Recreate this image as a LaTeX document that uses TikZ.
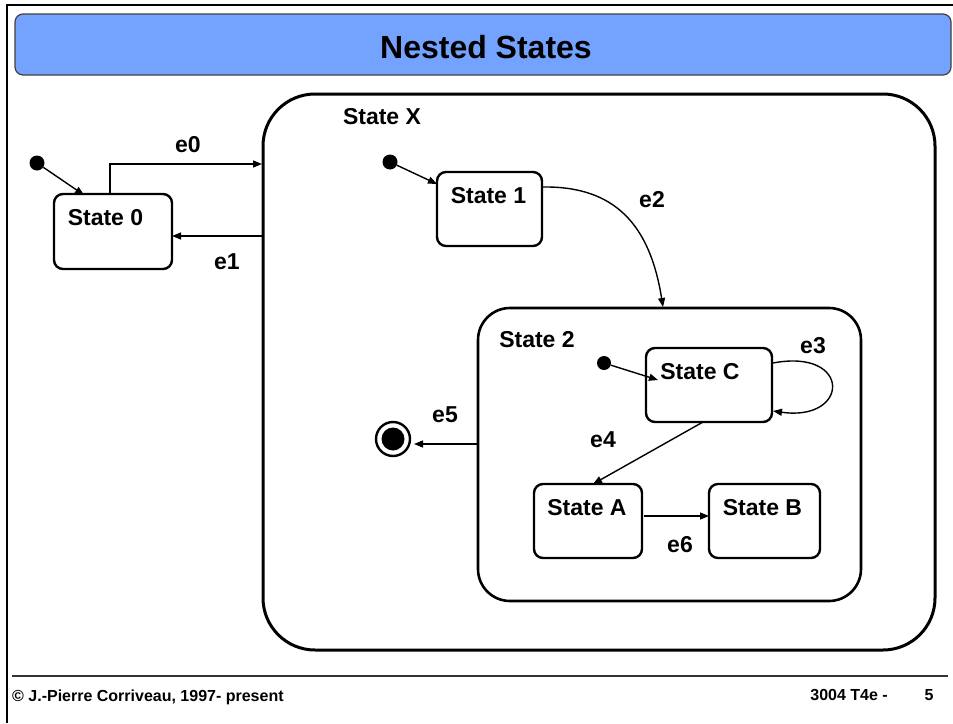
\documentclass[tikz,border=0pt]{standalone}
\usepackage{fontspec}
\setmainfont{Liberation Sans}
\usetikzlibrary{arrows.meta}
\begin{document}
\begin{tikzpicture}[x=1pt,y=-1pt,
  stbox/.style={draw,line width=2.4pt,rounded corners=9pt,inner sep=0pt},
  txt/.style={font=\fontsize{23}{27}\selectfont\bfseries,inner sep=0pt},
  ftxt/.style={font=\fontsize{16}{19}\selectfont\bfseries,inner sep=0pt},
  trans/.style={line width=1.4pt,-{Triangle[length=9pt,width=7pt]}},
  initdot/.style={circle,fill=black,inner sep=0pt,minimum size=15pt},
]
\useasboundingbox (0,0) rectangle (953,723);
% slide frame
\draw[line width=2pt] (7,723) -- (7,4.5) -- (953,4.5);
% title bar
\node[draw=black!75,line width=1.2pt,fill={rgb,255:red,115;green,162;blue,255},
      rounded corners=8pt,minimum width=936pt,minimum height=61pt,inner sep=0pt]
      (title) at (483,44.5) {};
\node[font=\fontsize{32}{38}\selectfont\bfseries,inner sep=0pt] (ttext) at (486,47) {Nested States};

% composite state X
\node[stbox,line width=3pt,rounded corners=52pt,minimum width=672pt,minimum height=556pt] (sx) at (599,372) {};
\node[txt] (sxl) at (382,117) {State X};

% State 0
\node[stbox,minimum width=118pt,minimum height=75pt] (s0) at (113,231.5) {};
\node[txt] (s0l) at (105.5,218) {State 0};
\node[initdot] (i0) at (37,163) {};

% State 1
\node[stbox,minimum width=105pt,minimum height=74pt] (s1) at (489.5,209) {};
\node[txt] (s1l) at (488.5,196) {State 1};
\node[initdot] (i1) at (390,162) {};

% composite state 2
\node[stbox,line width=2.6pt,rounded corners=32pt,minimum width=383pt,minimum height=293pt] (s2) at (669.5,454.5) {};
\node[txt] (s2l) at (537,340) {State 2};

% State C
\node[stbox,minimum width=126pt,minimum height=74pt] (sc) at (709,385) {};
\node[txt] (scl) at (700,372) {State C};
\node[initdot,minimum size=14pt] (ic) at (604,363) {};

% States A and B
\node[stbox,minimum width=108pt,minimum height=74pt] (sa) at (588,521) {};
\node[txt] (sal) at (587,508) {State A};
\node[stbox,minimum width=111pt,minimum height=74pt] (sb) at (764.5,521) {};
\node[txt] (sbl) at (762.5,508) {State B};

% final state
\node[circle,draw,line width=2.4pt,minimum size=34pt,inner sep=0pt] (fin) at (393,439) {};
\node[circle,fill=black,minimum size=23pt,inner sep=0pt] (finc) at (fin) {};

% anchor points on the borders
\coordinate (e0s) at (110,194);
\coordinate (e0t) at (262,164);
\coordinate (e1s) at (262,236);
\coordinate (e1t) at (172,236);
\coordinate (e2s) at (543,187);
\coordinate (e2t) at (663,307);
\coordinate (e3s) at (773,363);
\coordinate (e3t) at (773,411);
\coordinate (e4s) at (703,422);
\coordinate (e4t) at (593,484);
\coordinate (e5s) at (478,444);
\coordinate (e5t) at (414,444);
\coordinate (e6s) at (644,516);
\coordinate (e6t) at (709,516);

% initial transitions
\draw[trans] (i0) -- (84,195);
\draw[trans] (i1) -- (437,184);
\draw[trans] (ic) -- (658,380);

% event transitions
\draw[trans] (e0s) -- (110,164) -- (e0t);
\node[txt] (e0) at (188,145) {e0};
\draw[trans] (e1s) -- (e1t);
\node[txt] (e1) at (227,262) {e1};
\draw[trans] (e2s) .. controls (615,186) and (650,225) .. (e2t);
\node[txt] (e2) at (652,200) {e2};
\draw[trans] (e3s) .. controls (852,348) and (850,422) .. (e3t);
\node[txt] (e3) at (813,346) {e3};
\draw[trans] (e4s) -- (e4t);
\node[txt] (e4) at (603,440) {e4};
\draw[trans] (e5s) -- (e5t);
\node[txt] (e5) at (445,415) {e5};
\draw[trans] (e6s) -- (e6t);
\node[txt] (e6) at (680,545) {e6};

% footer
\draw[line width=1.2pt,black!80] (12,676) -- (948,676);
\node[ftxt,anchor=west] (foot) at (12,697) {© J.-Pierre Corriveau, 1997- present};
\node[ftxt,anchor=east] (pg) at (888,695) {3004 T4e -};
\node[ftxt] (pgn) at (929,695) {5};
\end{tikzpicture}
\end{document}
